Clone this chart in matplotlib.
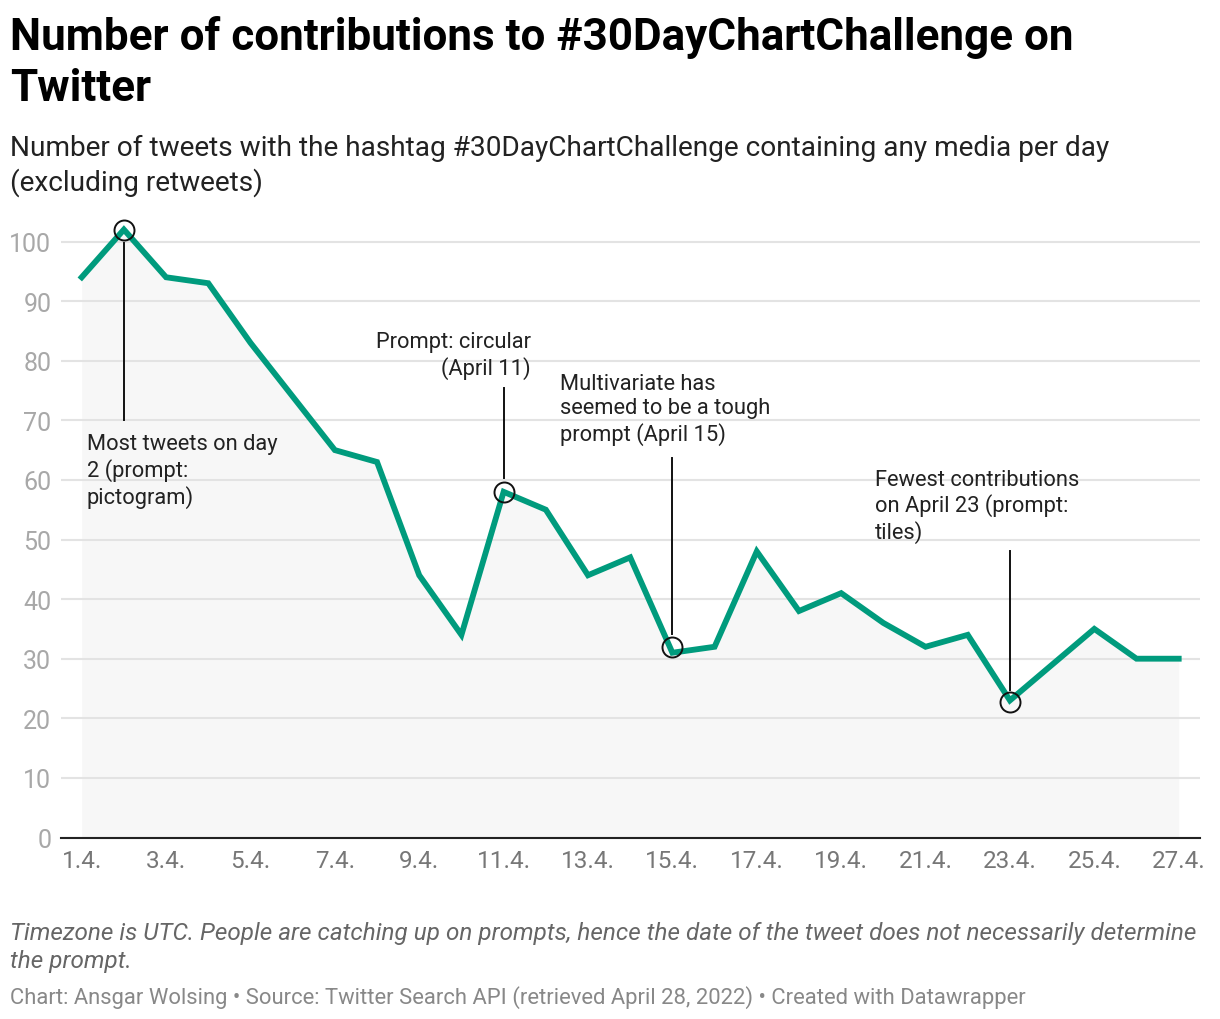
import matplotlib
matplotlib.use("Agg")
import matplotlib.pyplot as plt

plt.rcParams['font.family'] = ['Roboto', 'DejaVu Sans']

W, H = 1220, 1020

# tweets per day, 1 April to 27 April
days = list(range(1, 28))
tweets = [94, 102, 94, 93, 83, 74, 65, 63, 44, 34, 58, 55, 44, 47, 31, 32, 48, 38, 41, 36, 32, 34, 23, 29, 35, 30, 30]
tick_days = list(range(1, 28, 2))
tick_labels = [f"{d}.4." for d in tick_days]
y_ticks = list(range(0, 101, 10))

# (day, value at circle, line start, line end, text, text day, text value, align)
notes = [
    (2, 102, 99.7, 70, "Most tweets on day\n2 (prompt:\npictogram)", 1.125, 67.8, "left"),
    (11, 58, 60.4, 75.5, "Prompt: circular\n(April 11)", 11.65, 84.9, "right"),
    (15, 32, 34.2, 63.7, "Multivariate has\nseemed to be a tough\nprompt (April 15)", 12.325, 77.9, "left"),
    (23, 22.8, 24.8, 48, "Fewest contributions\non April 23 (prompt:\ntiles)", 19.8, 61.9, "left"),
]

fig = plt.figure(figsize=(W / 100, H / 100), dpi=100)
# x: day 1 at 81.7 px, day 27 at 1178.7 px; y: 0 at 838 px, 100 at 242 px
left, right = 61, 1200
bottom, top = 838.5, 215
ax = fig.add_axes([left / W, 1 - bottom / H, (right - left) / W, (bottom - top) / H])
px_per_day = (1178.7 - 81.7) / 26
ax.set_xlim(1 - (81.7 - left) / px_per_day, 27 + (right - 1178.7) / px_per_day)
ax.set_ylim(0, (bottom - top) / 5.96)

for s in ["top", "right", "left"]:
    ax.spines[s].set_visible(False)
ax.spines["bottom"].set_color("#222222")
ax.spines["bottom"].set_linewidth(1.5)

ax.set_axisbelow(True)
ax.set_yticks(y_ticks)
ax.yaxis.grid(True, color="#e3e3e3", linewidth=1.5)
ax.tick_params(axis="y", length=0, pad=7, labelsize=18, labelcolor="#a8a8a8")
ax.set_xticks(tick_days)
ax.set_xticklabels(tick_labels)
ax.tick_params(axis="x", length=0, pad=8, labelsize=17.5, labelcolor="#777777")

ax.fill_between(days, tweets, 0, color="#f7f7f7", zorder=0.5, linewidth=0)
ax.plot(days, tweets, color="#009b7d", linewidth=4.2, solid_joinstyle="miter", zorder=3)

for d, v, start, end, text, tx, ty, ha in notes:
    ax.plot([d, d], [start, end], color="#111111", linewidth=1.4, zorder=4)
    ax.plot([d], [v], marker="o", markersize=14.4, markerfacecolor="none",
            markeredgecolor="#111111", markeredgewidth=1.4, zorder=5)
    ax.text(tx, ty, text, ha=ha, va="top", fontsize=15.75, color="#222222", linespacing=1.2, zorder=6)

fig.text(10 / W, 1 - 37.5 / H, "Number of contributions to #30DayChartChallenge on", fontsize=31.65,
         fontweight="bold", color="#000000", va="center")
fig.text(10 / W, 1 - 89 / H, "Twitter", fontsize=31.65, fontweight="bold", color="#000000", va="center")
fig.text(10 / W, 1 - 148.5 / H, "Number of tweets with the hashtag #30DayChartChallenge containing any media per day",
         fontsize=20.2, color="#222222", va="center")
fig.text(10 / W, 1 - 182.5 / H, "(excluding retweets)", fontsize=20.2, color="#222222", va="center")
fig.text(10 / W, 1 - 934 / H, "Timezone is UTC. People are catching up on prompts, hence the date of the tweet does not necessarily determine",
         fontsize=17.43, style="italic", color="#666666", va="center")
fig.text(10 / W, 1 - 962 / H, "the prompt.", fontsize=17.43, style="italic", color="#666666", va="center")
fig.text(10 / W, 1 - 998 / H, "Chart: Ansgar Wolsing • Source: Twitter Search API (retrieved April 28, 2022) • Created with Datawrapper",
         fontsize=15.8, color="#888888", va="center")

fig.savefig("out.png", dpi=100)
